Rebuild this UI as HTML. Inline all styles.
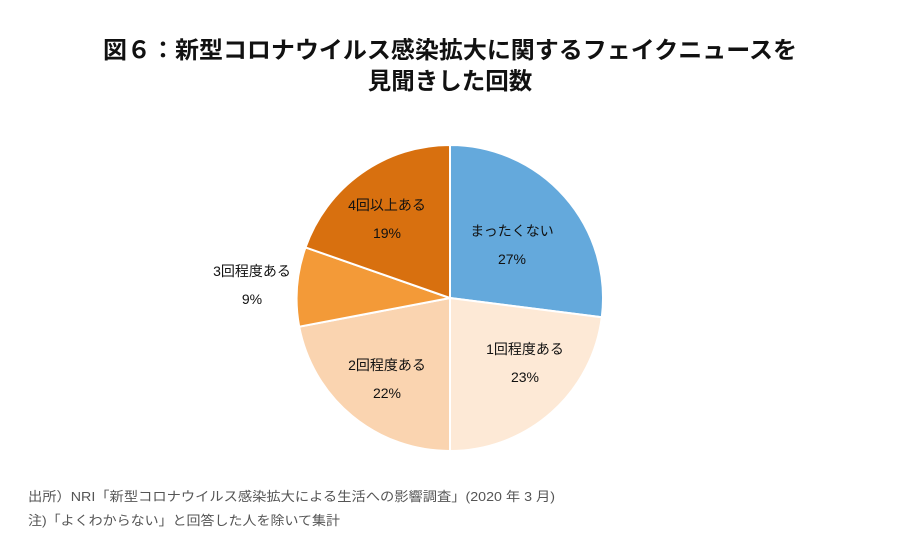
<!DOCTYPE html>
<html><head><meta charset="utf-8"><style>
body{margin:0;width:900px;height:550px;background:#fff;overflow:hidden;font-family:"Liberation Sans","Noto Sans CJK JP",sans-serif;}
</style></head><body>
<svg width="900" height="550" xmlns="http://www.w3.org/2000/svg" style="position:absolute;left:0;top:0">
<g font-family="'Liberation Sans','Noto Sans CJK JP',sans-serif">
<text x="450" y="58" text-anchor="middle" font-size="23.5" font-weight="bold" fill="#111" textLength="694" lengthAdjust="spacingAndGlyphs">図６：新型コロナウイルス感染拡大に関するフェイクニュースを</text>
<text x="450" y="89" text-anchor="middle" font-size="23.5" font-weight="bold" fill="#111">見聞きした回数</text>
<g stroke="#fff" stroke-width="2">
<path d="M450,298 L450,145 A153,153 0 0 1 601.8,317.2 Z" fill="#64A9DC"/>
<path d="M450,298 L601.8,317.2 A153,153 0 0 1 450,451 Z" fill="#FDE9D6"/>
<path d="M450,298 L450,451 A153,153 0 0 1 299.2,326.7 Z" fill="#FAD4B0"/>
<path d="M450,298 L299.2,326.7 A153,153 0 0 1 305.5,247.4 Z" fill="#F39A38"/>
<path d="M450,298 L305.5,247.4 A153,153 0 0 1 450,145 Z" fill="#D8700F"/>
</g>
<g font-size="14" fill="#111" text-anchor="middle">
<text x="512" y="236">まったくない</text><text x="512" y="264">27%</text>
<text x="525" y="354">1回程度ある</text><text x="525" y="382">23%</text>
<text x="387" y="370">2回程度ある</text><text x="387" y="398">22%</text>
<text x="252" y="276">3回程度ある</text><text x="252" y="304">9%</text>
<text x="387" y="210">4回以上ある</text><text x="387" y="238">19%</text>
</g>
<g font-size="13" fill="#555">
<text x="28" y="501" textLength="527" lengthAdjust="spacingAndGlyphs">出所）NRI「新型コロナウイルス感染拡大による生活への影響調査」(2020 年 3 月)</text>
<text x="28" y="525" textLength="312" lengthAdjust="spacingAndGlyphs">注)「よくわからない」と回答した人を除いて集計</text>
</g>
</g>
</svg>
</body></html>
